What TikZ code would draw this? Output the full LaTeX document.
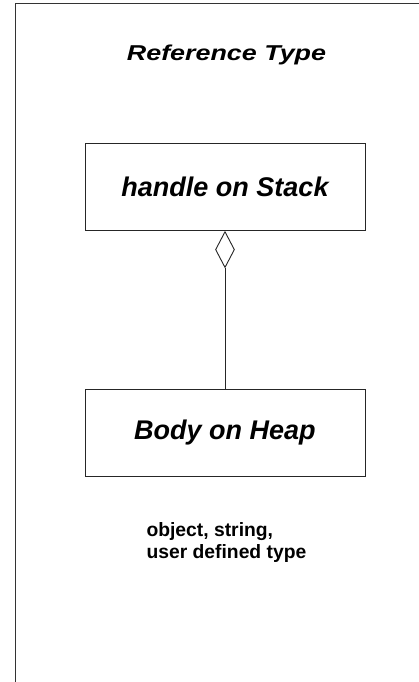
\documentclass[tikz,border=0pt]{standalone}
\usepackage{fontspec}
\usepackage{graphicx}
\setmainfont{Liberation Sans}
\usetikzlibrary{shapes.geometric}
\begin{document}
\begin{tikzpicture}[x=1pt,y=-1pt,
  frameline/.style={line width=1.4pt,draw=black!80},
  classbox/.style={draw=black!85,line width=0.9pt,minimum width=280pt,minimum height=87pt,inner sep=0pt,
     font=\fontsize{27}{31}\selectfont\bfseries\itshape},
  agg/.style={diamond,draw=black!85,line width=0.9pt,fill=white,aspect=0.53,minimum width=19pt,minimum height=36pt,inner sep=0pt},
  link/.style={draw=black!85,line width=0.9pt}]
\useasboundingbox (0,0) rectangle (419,682);
\coordinate (ftr) at (419,3.5);
\coordinate (ftl) at (15.5,3.5);
\coordinate (fbl) at (15.5,682);
\draw[frameline] (ftr) -- (ftl) -- (fbl);
\node[anchor=base,font=\fontsize{21.5}{26}\selectfont\bfseries\itshape] (title) at (226.5,61) {\scalebox{1.25}[1]{Reference Type}};
\node[classbox] (h) at (225,187.2) {handle on Stack};
\node[classbox] (b) at (225,432.5) {Body on Heap};
\node[agg,anchor=north] (d) at (h.south) {};
\draw[link] (d.south) -- (b.north);
\node[anchor=base west,align=left,font=\fontsize{19.3}{22}\selectfont\bfseries] (note) at (143,558) {object, string,\\user defined type};
\end{tikzpicture}
\end{document}
